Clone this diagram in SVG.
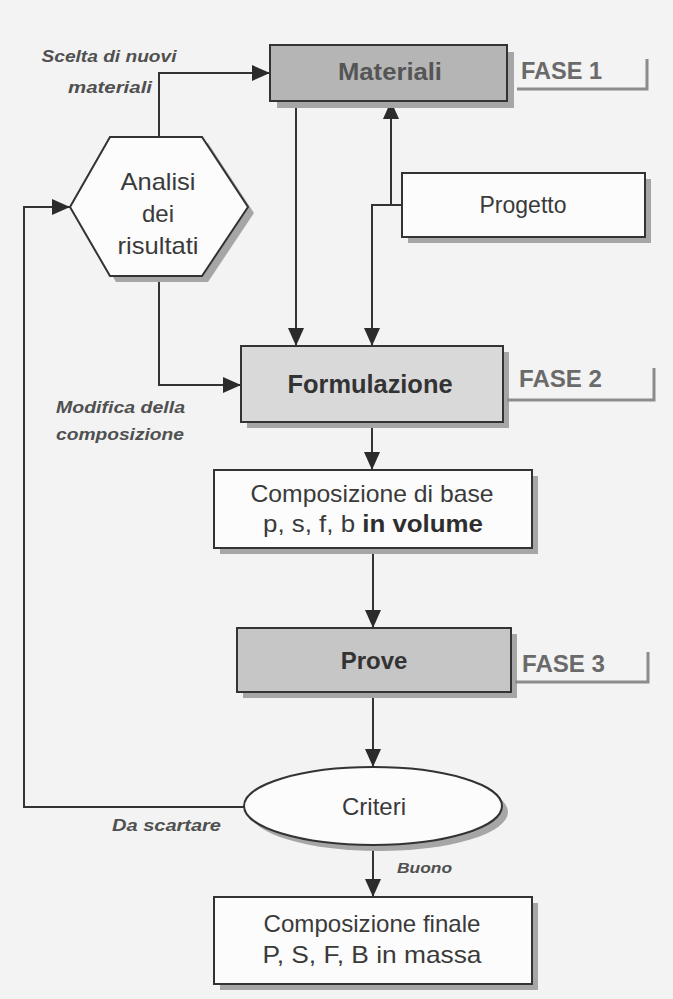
<svg xmlns="http://www.w3.org/2000/svg" width="673" height="999" viewBox="0 0 673 999">
<defs>
<marker id="ah" viewBox="0 0 18 16" refX="18" refY="8" markerWidth="18" markerHeight="16" orient="auto" markerUnits="userSpaceOnUse"><path d="M0,0 L18,8 L0,16 Z" fill="#2b2b2b"/></marker>
</defs>
<style>
.bg{fill:#f3f3f3}
.shadow{fill:#a6a6a6}
.box{stroke:#333;stroke-width:2}
.white{fill:#fcfcfc}
.conn{fill:none;stroke:#333;stroke-width:2}
.t{font-family:"Liberation Sans",Arial,sans-serif;fill:#3a3a3a;text-anchor:middle}
.b{font-weight:bold}
.lbl{font-family:"Liberation Sans",Arial,sans-serif;font-style:italic;font-weight:bold;fill:#505050;font-size:16px}
.fase{font-family:"Liberation Sans",Arial,sans-serif;font-weight:bold;fill:#6a6a6a;font-size:24px}
.br{fill:none;stroke:#8c8c8c;stroke-width:3}
</style>
<rect class="bg" x="0" y="0" width="673" height="999"/>

<g id="connectors">
<path class="conn" d="M159,137 V73 H270" marker-end="url(#ah)"/>
<path class="conn" d="M296,101 V346" marker-end="url(#ah)"/>
<path class="conn" d="M402,205 H391 V101" marker-end="url(#ah)"/>
<path class="conn" d="M391,205 H372 V346" marker-end="url(#ah)"/>
<path class="conn" d="M159,276 V385 H241" marker-end="url(#ah)"/>
<path class="conn" d="M372,422 V470" marker-end="url(#ah)"/>
<path class="conn" d="M373,548 V628" marker-end="url(#ah)"/>
<path class="conn" d="M373,692 V767" marker-end="url(#ah)"/>
<path class="conn" d="M373,845 V897" marker-end="url(#ah)"/>
<path class="conn" d="M244,807 H24 V207 H70" marker-end="url(#ah)"/>
</g>

<g id="label-scelta">
<text class="lbl" x="109" y="62" text-anchor="middle" textLength="135" lengthAdjust="spacingAndGlyphs">Scelta di nuovi</text>
<text class="lbl" x="110" y="93" text-anchor="middle" textLength="84" lengthAdjust="spacingAndGlyphs">materiali</text>
</g>
<g id="label-modifica">
<text class="lbl" x="56" y="413" textLength="129" lengthAdjust="spacingAndGlyphs">Modifica della</text>
<text class="lbl" x="56" y="440" textLength="128" lengthAdjust="spacingAndGlyphs">composizione</text>
</g>
<g id="label-scartare">
<text class="lbl" x="112" y="831" textLength="109" lengthAdjust="spacingAndGlyphs">Da scartare</text>
</g>
<g id="label-buono">
<text class="lbl" x="397" y="873" textLength="55" lengthAdjust="spacingAndGlyphs" style="font-size:15px">Buono</text>
</g>

<g id="materiali">
<rect class="shadow" x="277" y="52" width="237" height="56"/>
<rect class="box" x="270" y="45" width="237" height="56" fill="#b5b5b5"/>
<text class="t b" x="390" y="80" font-size="24" textLength="104" lengthAdjust="spacingAndGlyphs" style="fill:#555">Materiali</text>
</g>
<g id="fase1">
<path class="br" d="M517,89 H647 V59"/>
<text class="fase" x="521" y="79" textLength="81" lengthAdjust="spacingAndGlyphs">FASE 1</text>
</g>

<g id="progetto">
<rect class="shadow" x="408" y="179" width="243" height="64"/>
<rect class="box white" x="402" y="173" width="243" height="64"/>
<text class="t" x="523" y="213" font-size="23">Progetto</text>
</g>

<g id="analisi">
<polygon class="shadow" points="116,143 208,143 254,213 208,282 116,282 76,213"/>
<polygon class="box white" points="110,137 202,137 248,207 202,276 110,276 70,207"/>
<text class="t" x="158" y="190" font-size="24" textLength="75" lengthAdjust="spacingAndGlyphs">Analisi</text>
<text class="t" x="158" y="222" font-size="24">dei</text>
<text class="t" x="158" y="254" font-size="24" textLength="81" lengthAdjust="spacingAndGlyphs">risultati</text>
</g>

<g id="formulazione">
<rect class="shadow" x="247" y="352" width="262" height="76"/>
<rect class="box" x="241" y="346" width="262" height="76" fill="#d9d9d9"/>
<text class="t b" x="370" y="393" font-size="25" textLength="165" lengthAdjust="spacingAndGlyphs" style="fill:#333">Formulazione</text>
</g>
<g id="fase2">
<path class="br" d="M507,400 H654 V368"/>
<text class="fase" x="519" y="387" textLength="83" lengthAdjust="spacingAndGlyphs">FASE 2</text>
</g>

<g id="composizione-base">
<rect class="shadow" x="220" y="476" width="318" height="78"/>
<rect class="box white" x="214" y="470" width="318" height="78"/>
<text class="t" x="372" y="502" font-size="24" textLength="243" lengthAdjust="spacingAndGlyphs">Composizione di base</text>
<text class="t" x="373" y="532" font-size="24" textLength="220" lengthAdjust="spacingAndGlyphs">p, s, f, b <tspan font-weight="bold" style="fill:#2e2e2e">in volume</tspan></text>
</g>

<g id="prove">
<rect class="shadow" x="243" y="634" width="274" height="64"/>
<rect class="box" x="237" y="628" width="274" height="64" fill="#c6c6c6"/>
<text class="t b" x="374" y="669" font-size="24" style="fill:#333">Prove</text>
</g>
<g id="fase3">
<path class="br" d="M515,682 H648 V652"/>
<text class="fase" x="522" y="672" textLength="83" lengthAdjust="spacingAndGlyphs">FASE 3</text>
</g>

<g id="criteri">
<ellipse class="shadow" cx="379" cy="812" rx="129" ry="39"/>
<ellipse class="box white" cx="373" cy="806" rx="129" ry="39"/>
<text class="t" x="374" y="815" font-size="24">Criteri</text>
</g>

<g id="composizione-finale">
<rect class="shadow" x="220" y="903" width="318" height="87"/>
<rect class="box white" x="214" y="897" width="318" height="87"/>
<text class="t" x="372" y="932" font-size="24" textLength="217" lengthAdjust="spacingAndGlyphs">Composizione finale</text>
<text class="t" x="372" y="963" font-size="24" textLength="219" lengthAdjust="spacingAndGlyphs">P, S, F, B in massa</text>
</g>
</svg>
